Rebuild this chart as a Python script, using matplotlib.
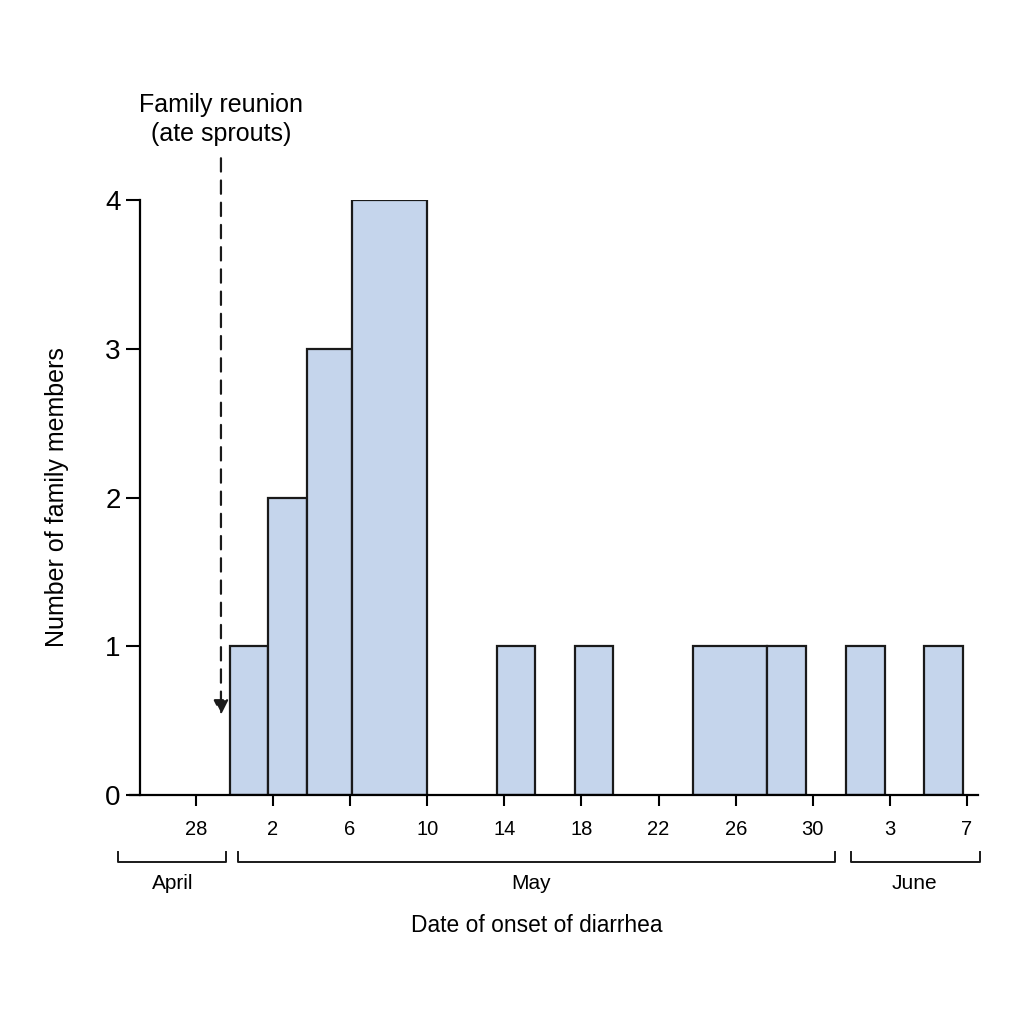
import matplotlib.pyplot as plt
from matplotlib.transforms import blended_transform_factory

plt.rcParams['font.family'] = ['Liberation Sans', 'DejaVu Sans']

# days counted from April 28 (= day 0)
bin_start = [1.76, 3.74, 5.76, 8.09, 15.62, 19.66, 25.78, 29.62, 33.72, 37.77]
bin_end = [3.74, 5.76, 8.09, 11.98, 17.59, 21.63, 29.62, 31.65, 35.75, 39.79]
counts = [1, 2, 3, 4, 1, 1, 1, 1, 1, 1]

tick_days = [0, 4, 8, 12, 16, 20, 24, 28, 32, 36, 40]
tick_labels = ['28', '2', '6', '10', '14', '18', '22', '26', '30', '3', '7']

months = ['April', 'May', 'June']
month_spans = [(-4.05, 1.56), (2.18, 33.15), (33.98, 40.67)]
month_label_x = [-1.19, 17.38, 37.25]

reunion_day = 1.30

fig = plt.figure(figsize=(10.24, 10.24), dpi=100)
ax = fig.add_axes([0.1367, 0.2236, 0.8184, 0.581])

widths = [e - s for s, e in zip(bin_start, bin_end)]
ax.bar(bin_start, counts, width=widths, align='edge', color='#c5d5ec',
       edgecolor='#1a1a1a', linewidth=1.6)

ax.set_xlim(-2.9, 40.57)
ax.set_ylim(0, 4)
ax.spines['top'].set_visible(False)
ax.spines['right'].set_visible(False)
ax.spines['left'].set_linewidth(1.6)
ax.spines['bottom'].set_linewidth(1.6)
ax.spines['bottom'].set_bounds(-3.4, 40.57)

ax.set_xticks(tick_days)
ax.set_xticklabels(tick_labels, fontsize=14.5)
ax.set_yticks([0, 1, 2, 3, 4])
ax.tick_params(axis='x', length=8, width=1.5, pad=10)
ax.tick_params(axis='y', length=10, width=1.5, labelsize=20, pad=4)

# month brackets under the axis
trans = blended_transform_factory(ax.transData, ax.transAxes)
y_line, y_top = -0.1126, -0.0958
for name, (x0, x1), lx in zip(months, month_spans, month_label_x):
    ax.plot([x0, x0, x1, x1], [y_top, y_line, y_line, y_top], color='#1a1a1a',
            lw=1.4, transform=trans, clip_on=False)
    ax.text(lx, -0.148, name, transform=trans, ha='center', va='center', fontsize=15)

# reunion marker
ax.annotate('', xy=(reunion_day, 0.52), xytext=(reunion_day, 4.30),
            arrowprops=dict(arrowstyle='-|>', linestyle=(0, (6, 4)), lw=1.6,
                            color='#1a1a1a', mutation_scale=22),
            annotation_clip=False)
ax.text(reunion_day, 4.54, 'Family reunion\n(ate sprouts)', ha='center', va='center',
        fontsize=18, linespacing=1.25)

fig.text(537 / 1024, 1 - 925 / 1024, 'Date of onset of diarrhea', ha='center',
         va='center', fontsize=16.4)
fig.text(57 / 1024, 1 - 497 / 1024, 'Number of family members', ha='center',
         va='center', rotation=90, fontsize=18)

plt.savefig('out.png', dpi=100, facecolor='white')
